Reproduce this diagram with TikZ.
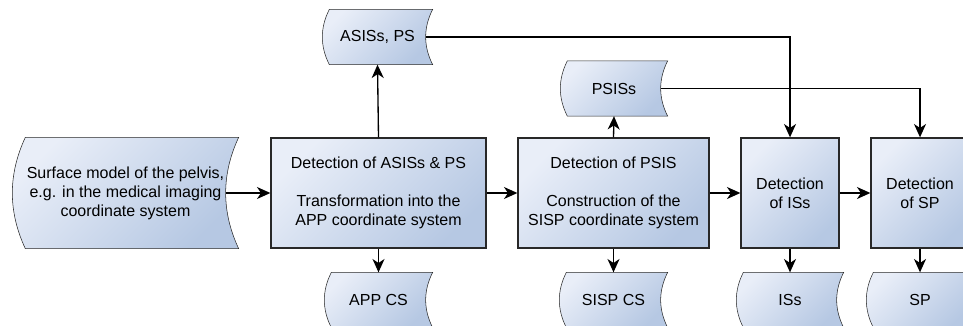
\documentclass[tikz,border=0pt]{standalone}
\usepackage{fontspec}
\setmainfont{Liberation Sans}
\usetikzlibrary{arrows.meta,calc,backgrounds}

\definecolor{fillhi}{RGB}{233,238,248}
\definecolor{filllo}{RGB}{182,200,227}
\definecolor{edgegray}{RGB}{40,40,40}

\tikzset{every picture/.style={line width=1pt}}

\begin{document}
\begin{tikzpicture}[x=0.75pt,y=-0.75pt,
	every node/.style={font=\fontsize{12}{14.25}\selectfont},
	procbox/.style={draw=edgegray, top color=fillhi, bottom color=filllo, shading angle=45, align=center, inner sep=0pt, minimum height=82.5pt},
	storebox/.style={inner sep=0pt, align=center, minimum height=40.5pt},
	storefill/.style={draw=edgegray, top color=fillhi, bottom color=filllo, shading angle=45},
	flow/.style={draw=black, -{Stealth[length=10pt,width=9pt,inset=3pt]}}]
	\useasboundingbox (0,0) rectangle (963,325);

	% Process boxes
	\node[procbox, minimum width=161.25pt] (box1) at (378.5,193) {Detection of ASISs \& PS\\[\baselineskip]Transformation into the\\APP coordinate system};
	\node[procbox, minimum width=143.25pt] (box2) at (613.5,193) {Detection of PSIS\\[\baselineskip]Construction of the\\SISP coordinate system};
	\node[procbox, minimum width=73.5pt] (box3) at (790,193) {Detection\\of ISs};
	\node[procbox, minimum width=73.5pt] (box4) at (920,193) {Detection\\of SP};

	% Data stores
	\node[storebox, minimum width=168.75pt, minimum height=82.5pt] (surf) at (125.5,193) {Surface model of the pelvis,\\e.g. in the medical imaging\\coordinate system};
	\node[storebox, minimum width=81.75pt] (asis) at (377.5,37) {ASISs, PS};
	\node[storebox, minimum width=79.5pt] (psis) at (614,88.5) {PSISs};
	\node[storebox, minimum width=80.25pt] (appcs) at (378.5,300) {APP CS};
	\node[storebox, minimum width=80.25pt] (sispcs) at (613.5,300) {SISP CS};
	\node[storebox, minimum width=79.5pt] (iss) at (790,300) {ISs};
	\node[storebox, minimum width=79.5pt] (sp) at (920,300) {SP};

	\begin{scope}[on background layer]
		\foreach \n/\b in {surf/13, asis/7, psis/7, appcs/7, sispcs/7, iss/7, sp/7}
			\path[storefill] ($(\n.north west)+(\b,0)$) -- (\n.north east)
				.. controls ($(\n.north east)!1/3!(\n.south east)+(-4/3*\b,0)$)
				and ($(\n.north east)!2/3!(\n.south east)+(-4/3*\b,0)$) .. (\n.south east)
				-- ($(\n.south west)+(\b,0)$)
				.. controls ($(\n.south west)!1/3!(\n.north west)+(-\b/3,0)$)
				and ($(\n.south west)!2/3!(\n.north west)+(-\b/3,0)$) .. cycle;
	\end{scope}

	% Connectors
	\draw[flow] ([xshift=-9.75pt]surf.east) -- (box1.west);
	\draw[flow] (box1.east) -- (box2.west);
	\draw[flow] (box2.east) -- (box3.west);
	\draw[flow] (box3.east) -- (box4.west);
	\draw[flow] (box1.north) -- (asis.south);
	\draw[flow] (box2.north) -- (psis.south);
	\draw[flow] (box1.south) -- (appcs.north);
	\draw[flow] (box2.south) -- (sispcs.north);
	\draw[flow] (box3.south) -- (iss.north);
	\draw[flow] (box4.south) -- (sp.north);
	\draw[flow] ([xshift=-5pt]asis.east) -| (box3.north);
	\draw[flow] ([xshift=-5pt]psis.east) -| (box4.north);
\end{tikzpicture}
\end{document}
